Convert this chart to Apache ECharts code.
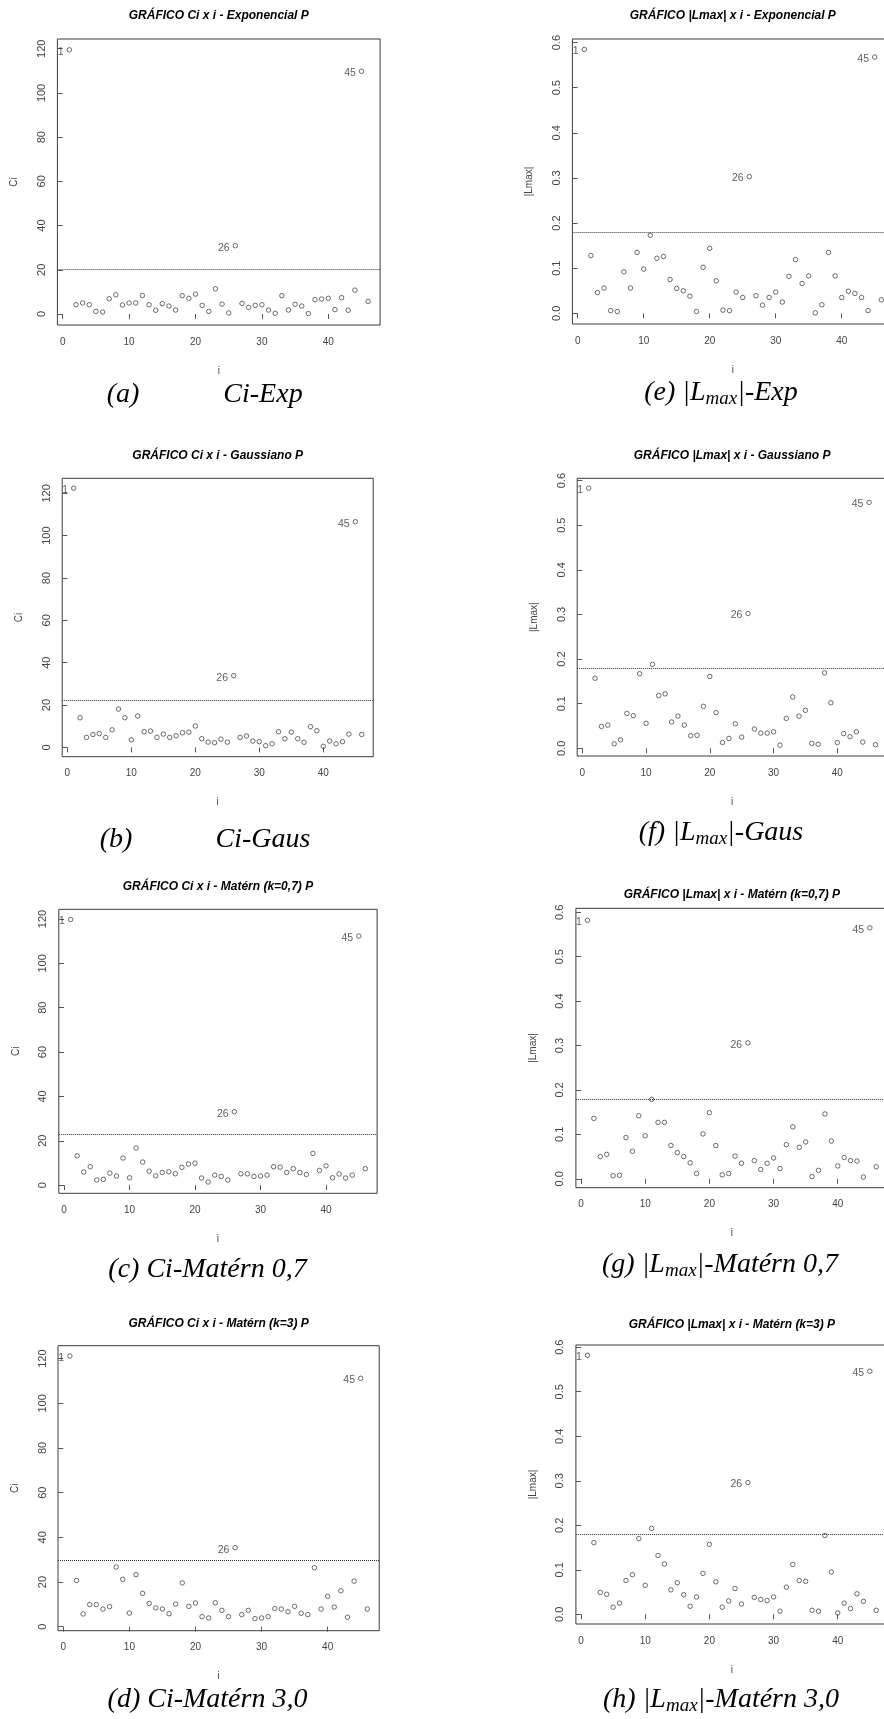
<!DOCTYPE html>
<html><head><meta charset="utf-8">
<script src="https://cdn.jsdelivr.net/npm/echarts@6/dist/echarts.min.js"></script>
<style>html,body{margin:0;padding:0;background:#fff}#c{width:884px;height:1719px}</style>
</head><body><div id="c"></div>
<script>
// ---- data ----
const obsIndex = [1,2,3,4,5,6,7,8,9,10,11,12,13,14,15,16,17,18,19,20,21,22,23,24,25,26,27,28,29,30,31,32,33,34,35,36,37,38,39,40,41,42,43,44,45,46];
const xTicks = [0,10,20,30,40];
const ciTicks = [0,20,40,60,80,100,120];
const lmaxTicks = [0,0.1,0.2,0.3,0.4,0.5,0.6];
const labeledObs = [1,26,45];

const ciExp   = [119.5,4.2,5.0,4.2,1.2,0.9,6.9,8.7,4.1,5.0,5.0,8.4,4.2,1.7,4.7,3.6,1.8,8.3,7.1,9.0,3.9,1.2,11.4,4.5,0.5,30.9,4.8,3.0,3.9,4.2,1.8,0.3,8.3,1.8,4.4,3.6,0.2,6.5,6.8,7.1,2.0,7.4,1.7,10.8,109.8,5.7];
const ciGaus  = [122.4,14.0,4.7,6.1,6.5,4.7,8.3,18.1,14.0,3.6,14.8,7.4,7.7,4.7,6.3,4.7,5.5,6.9,7.2,10.1,4.1,2.5,2.2,3.9,2.5,33.9,4.7,5.4,3.0,2.7,0.8,1.7,7.4,4.1,7.2,4.1,2.4,9.8,7.9,0.5,3.0,1.7,2.7,6.3,106.6,6.1];
const ciMat07 = [119.8,13.2,5.9,8.3,2.3,2.6,5.4,4.1,12.2,3.3,16.7,10.4,6.3,4.2,5.7,6.0,5.1,8.0,9.5,9.9,3.2,1.4,4.5,3.9,2.3,33.1,5.1,5.1,3.9,4.1,4.5,8.3,8.1,5.7,7.4,5.7,4.8,14.3,6.6,8.7,3.3,5.0,3.2,4.5,112.3,7.4];
const ciMat30 = [121.2,20.7,5.7,9.9,9.9,7.9,9.0,26.7,21.2,6.1,23.3,14.9,10.4,8.4,7.9,5.8,10.1,19.6,9.1,10.6,4.5,3.9,10.7,7.3,4.5,35.4,5.4,7.3,3.6,3.9,4.5,8.1,7.9,6.7,9.1,6.0,5.4,26.4,7.9,13.6,8.8,16.1,4.2,20.4,111.2,7.9];

const lmaxExp   = [0.585,0.128,0.046,0.056,0.006,0.004,0.092,0.056,0.135,0.098,0.173,0.122,0.126,0.075,0.055,0.050,0.038,0.004,0.102,0.144,0.072,0.007,0.006,0.047,0.035,0.303,0.039,0.018,0.035,0.047,0.025,0.082,0.119,0.066,0.083,0.001,0.019,0.135,0.083,0.035,0.049,0.044,0.035,0.006,0.568,0.030];
const lmaxGaus  = [0.583,0.157,0.049,0.052,0.010,0.019,0.078,0.073,0.167,0.056,0.188,0.118,0.122,0.059,0.072,0.052,0.028,0.029,0.094,0.161,0.080,0.013,0.022,0.055,0.025,0.302,0.043,0.034,0.034,0.037,0.007,0.067,0.115,0.072,0.085,0.011,0.009,0.169,0.102,0.013,0.033,0.026,0.037,0.014,0.551,0.008];
const lmaxMat07 = [0.582,0.136,0.050,0.055,0.007,0.008,0.093,0.062,0.142,0.097,0.179,0.127,0.127,0.075,0.059,0.050,0.036,0.012,0.101,0.149,0.075,0.009,0.012,0.051,0.035,0.306,0.041,0.021,0.035,0.047,0.023,0.077,0.117,0.071,0.083,0.005,0.019,0.146,0.085,0.029,0.048,0.041,0.040,0.004,0.565,0.027];
const lmaxMat30 = [0.582,0.161,0.049,0.045,0.016,0.025,0.076,0.089,0.170,0.065,0.193,0.132,0.113,0.055,0.071,0.044,0.018,0.039,0.092,0.157,0.073,0.016,0.030,0.058,0.023,0.296,0.038,0.033,0.031,0.039,0.007,0.061,0.112,0.076,0.074,0.009,0.007,0.177,0.095,0.003,0.025,0.013,0.046,0.029,0.546,0.009];

const ciLimits = [20.4, 22.3, 22.9, 29.9];
const lmaxLimits = [0.177, 0.177, 0.177, 0.178];

const plotTitles = [
  'GRÁFICO Ci x i - Exponencial P',
  'GRÁFICO Ci x i - Gaussiano P',
  'GRÁFICO Ci x i - Matérn (k=0,7) P',
  'GRÁFICO Ci x i - Matérn (k=3) P',
  'GRÁFICO |Lmax| x i - Exponencial P',
  'GRÁFICO |Lmax| x i - Gaussiano P',
  'GRÁFICO |Lmax| x i - Matérn (k=0,7) P',
  'GRÁFICO |Lmax| x i - Matérn (k=3) P'
];

// ---- layout (pixel boxes, axis ranges) ----
const panels = [
  {v: ciExp,    lim: ciLimits[0],   ticks: ciTicks,   yName: 'Ci',     dec: 0, box: [57.4, 39, 322.7, 286],     yr: [-4.97, 124.4], ty: 16},
  {v: ciGaus,   lim: ciLimits[1],   ticks: ciTicks,   yName: 'Ci',     dec: 0, box: [62.2, 478.3, 311, 278.4],  yr: [-4.4, 127.1],  ty: 456},
  {v: ciMat07,  lim: ciLimits[2],   ticks: ciTicks,   yName: 'Ci',     dec: 0, box: [58.8, 909.3, 318.3, 284],  yr: [-3.7, 124.4],  ty: 886.7},
  {v: ciMat30,  lim: ciLimits[3],   ticks: ciTicks,   yName: 'Ci',     dec: 0, box: [58, 1345.7, 321.2, 285],   yr: [-1.8, 125.8],  ty: 1323.3},
  {v: lmaxExp,  lim: lmaxLimits[0], ticks: lmaxTicks, yName: '|Lmax|', dec: 1, box: [572.4, 39, 320.8, 285],    yr: [-0.0237, 0.608], ty: 16},
  {v: lmaxGaus, lim: lmaxLimits[1], ticks: lmaxTicks, yName: '|Lmax|', dec: 1, box: [577.2, 478.3, 309.8, 277.7], yr: [-0.0173, 0.605], ty: 456},
  {v: lmaxMat07,lim: lmaxLimits[2], ticks: lmaxTicks, yName: '|Lmax|', dec: 1, box: [575.9, 908.3, 311.9, 279.4], yr: [-0.020, 0.609], ty: 894.3},
  {v: lmaxMat30,lim: lmaxLimits[3], ticks: lmaxTicks, yName: '|Lmax|', dec: 1, box: [575.9, 1345, 311.9, 279],   yr: [-0.0218, 0.605], ty: 1325}
];

const GRAY = '#444';
const SANS = 'Liberation Sans, Arial, sans-serif';
const SERIF = 'Liberation Serif, Times New Roman, serif';

const option = {animation: false, backgroundColor: '#fff', grid: [], xAxis: [], yAxis: [], series: [], graphic: []};

panels.forEach((p, k) => {
  const [L, T, W, H] = p.box;
  option.grid.push({left: L, top: T, width: W, height: H, show: true, borderColor: '#3a3a3a', borderWidth: 1,
    backgroundColor: 'rgba(0,0,0,0)', outerBoundsMode: 'none', containLabel: false});
  option.xAxis.push({type: 'value', gridIndex: k, min: -0.8, max: 47.8,
    name: 'i', nameLocation: 'middle', nameGap: 41, nameTextStyle: {fontSize: 10, color: GRAY, fontFamily: SANS},
    axisLine: {show: false}, splitLine: {show: false},
    axisTick: {show: true, length: 5, customValues: xTicks, lineStyle: {color: '#555'}},
    axisLabel: {customValues: xTicks, margin: 12, fontSize: 10, color: GRAY, fontFamily: SANS}});
  option.yAxis.push({type: 'value', gridIndex: k, min: p.yr[0], max: p.yr[1],
    name: p.yName, nameLocation: 'middle', nameGap: 38, nameRotate: 90, nameTextStyle: {fontSize: 10, color: GRAY, fontFamily: SANS},
    axisLine: {show: false}, splitLine: {show: false},
    axisTick: {show: true, length: 5, customValues: p.ticks, lineStyle: {color: '#555'}},
    axisLabel: {customValues: p.ticks, margin: 10, rotate: 90, fontSize: 11, color: GRAY, fontFamily: SANS,
      formatter: v => Number(v).toFixed(p.dec)}});
  option.series.push({type: 'scatter', xAxisIndex: k, yAxisIndex: k,
    data: obsIndex.map((i, j) => labeledObs.includes(i) ? {value: [i, p.v[j]], label: {show: true}} : [i, p.v[j]]),
    symbol: 'circle', symbolSize: 4.5,
    itemStyle: {color: 'rgba(0,0,0,0)', borderColor: '#333', borderWidth: 0.9},
    label: {show: false, position: 'left', distance: 3, offset: [0, 2], fontSize: 10.5, color: '#333', fontFamily: SANS,
      formatter: prm => String(prm.value[0])},
    emphasis: {disabled: true},
    markLine: {silent: true, symbol: 'none', label: {show: false}, animation: false,
      lineStyle: {type: 'dotted', color: '#333', width: 1}, data: [{yAxis: p.lim}]}});
  option.graphic.push({type: 'text', x: L + W / 2, y: p.ty,
    style: {text: plotTitles[k], fontFamily: SANS, fontSize: 12, fontWeight: 'bold', fontStyle: 'italic', fill: '#000',
      align: 'center', verticalAlign: 'middle', textAlign: 'center', textVerticalAlign: 'middle'}});
});

// ---- captions ----
function cap(x, y, text) {
  option.graphic.push({type: 'text', x: x, y: y,
    style: {text: text, fontFamily: SERIF, fontSize: 28, fontStyle: 'italic', fill: '#000',
      align: 'center', verticalAlign: 'middle', textAlign: 'center', textVerticalAlign: 'middle'}});
}
function capL(x, y, pre, post) {
  option.graphic.push({type: 'text', x: x, y: y,
    style: {text: '{n|' + pre + '}{s|max}{n|' + post + '}', fill: '#000',
      align: 'center', verticalAlign: 'middle', textAlign: 'center', textVerticalAlign: 'middle',
      rich: {
        n: {fontFamily: SERIF, fontSize: 28, fontStyle: 'italic', lineHeight: 30, fill: '#000'},
        s: {fontFamily: SERIF, fontSize: 19, fontStyle: 'italic', lineHeight: 19, verticalAlign: 'bottom', fill: '#000'}
      }}});
}
cap(123, 395, '(a)'); cap(263, 395, 'Ci-Exp');
cap(116, 840, '(b)'); cap(263, 840, 'Ci-Gaus');
cap(207.5, 1270, '(c) Ci-Matérn 0,7');
cap(207.5, 1700, '(d) Ci-Matérn 3,0');
capL(721, 393, '(e) |L', '|-Exp');
capL(721, 833, '(f) |L', '|-Gaus');
capL(720, 1265, '(g) |L', '|-Matérn 0,7');
capL(721, 1700, '(h) |L', '|-Matérn 3,0');

const chart = echarts.init(document.getElementById('c'), null, {renderer: 'canvas'});
chart.setOption(option);
</script></body></html>
